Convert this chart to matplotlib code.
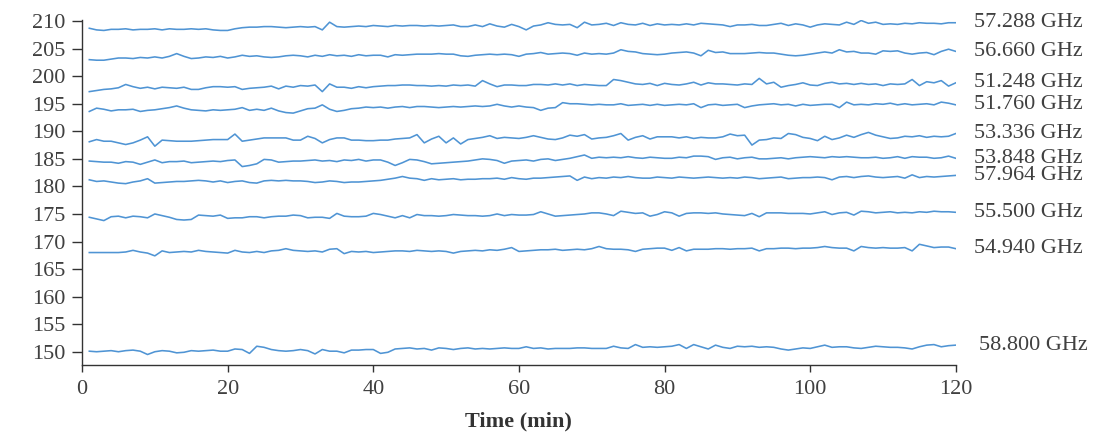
import numpy as np
import matplotlib
matplotlib.use('Agg')
import matplotlib.pyplot as plt

# time axis (minutes)
t = np.arange(1, 121)

f57288 = [208.7, 208.4, 208.3, 208.5, 208.5, 208.6, 208.4, 208.5, 208.5, 208.6,
          208.4, 208.6, 208.5, 208.5, 208.6, 208.5, 208.6, 208.4, 208.3, 208.3,
          208.6, 208.8, 208.9, 208.9, 209.0, 209.0, 208.9, 208.8, 208.9, 209.0,
          208.9, 209.0, 208.4, 209.8, 209.0, 208.9, 209.0, 209.1, 209.0, 209.2,
          209.1, 209.0, 209.2, 209.1, 209.2, 209.2, 209.1, 209.2, 209.1, 209.2,
          209.3, 209.0, 209.0, 209.3, 209.0, 209.5, 209.1, 208.9, 209.4, 209.0,
          208.4, 209.1, 209.3, 209.7, 209.4, 209.3, 209.4, 208.8, 209.8, 209.3,
          209.4, 209.6, 209.2, 209.7, 209.4, 209.3, 209.6, 209.2, 209.5, 209.3,
          209.4, 209.3, 209.5, 209.3, 209.6, 209.5, 209.4, 209.3, 209.0, 209.3,
          209.3, 209.4, 209.2, 209.2, 209.4, 209.6, 209.2, 209.5, 209.3, 208.9,
          209.3, 209.5, 209.4, 209.3, 209.8, 209.4, 210.1, 209.6, 209.8, 209.4,
          209.5, 209.4, 209.6, 209.5, 209.7, 209.6, 209.6, 209.5, 209.7, 209.7]

f56660 = [203.0, 202.9, 202.9, 203.1, 203.3, 203.3, 203.2, 203.4, 203.3, 203.5,
          203.3, 203.6, 204.1, 203.6, 203.2, 203.3, 203.5, 203.4, 203.6, 203.3,
          203.5, 203.8, 203.6, 203.7, 203.5, 203.4, 203.5, 203.7, 203.8, 203.7,
          203.5, 203.8, 203.6, 203.9, 203.7, 203.8, 203.6, 203.9, 203.7, 203.8,
          203.8, 203.5, 203.9, 203.8, 203.9, 204.0, 204.0, 204.0, 204.1, 204.0,
          204.0, 203.7, 203.6, 203.8, 203.9, 204.0, 203.9, 204.0, 203.9, 203.6,
          204.0, 204.1, 204.3, 204.0, 204.1, 204.2, 204.1, 203.8, 204.2, 204.0,
          204.1, 204.0, 204.2, 204.8, 204.5, 204.4, 204.1, 204.0, 203.9, 204.0,
          204.2, 204.3, 204.4, 204.2, 203.7, 204.7, 204.3, 204.4, 204.1, 204.1,
          204.1, 204.2, 204.3, 204.2, 204.2, 204.0, 203.8, 203.7, 203.8, 204.0,
          204.2, 204.4, 204.2, 204.8, 204.4, 204.5, 204.2, 204.2, 204.0, 204.6,
          204.5, 204.6, 204.2, 204.0, 204.2, 204.3, 203.9, 204.5, 204.9, 204.5]

f51248 = [197.2, 197.4, 197.6, 197.7, 197.9, 198.5, 198.1, 197.8, 198.0, 197.7,
          198.0, 197.9, 197.8, 198.0, 197.6, 197.6, 197.9, 198.1, 198.1, 198.0,
          198.1, 197.6, 197.8, 197.9, 198.0, 198.2, 197.7, 198.2, 198.0, 198.3,
          198.2, 198.4, 197.2, 198.6, 198.0, 198.0, 197.8, 198.1, 197.9, 198.1,
          198.2, 198.3, 198.3, 198.4, 198.4, 198.3, 198.3, 198.2, 198.3, 198.2,
          198.4, 198.3, 198.4, 198.2, 199.2, 198.6, 198.1, 198.4, 198.4, 198.3,
          198.3, 198.5, 198.5, 198.4, 198.6, 198.4, 198.6, 198.3, 198.5, 198.4,
          198.3, 198.3, 199.4, 199.2, 198.9, 198.6, 198.5, 198.7, 198.3, 198.7,
          198.5, 198.4, 198.6, 198.9, 198.4, 198.8, 198.6, 198.6, 198.5, 198.4,
          198.6, 198.5, 199.6, 198.6, 198.9, 198.0, 198.3, 198.5, 198.8, 198.4,
          198.3, 198.7, 198.9, 198.6, 198.7, 198.5, 198.7, 198.5, 198.6, 198.3,
          198.6, 198.5, 198.6, 199.4, 198.3, 199.0, 198.8, 199.2, 198.2, 198.8]

f51760 = [193.6, 194.2, 194.0, 193.7, 193.9, 193.9, 194.0, 193.6, 193.8, 193.9,
          194.1, 194.3, 194.6, 194.2, 193.9, 193.8, 193.7, 193.9, 193.8, 193.9,
          194.0, 194.3, 193.8, 194.0, 193.8, 194.2, 193.7, 193.4, 193.3, 193.7,
          194.1, 194.2, 194.8, 194.0, 193.6, 193.8, 194.1, 194.2, 194.4, 194.3,
          194.4, 194.2, 194.4, 194.5, 194.3, 194.5, 194.5, 194.4, 194.3, 194.4,
          194.5, 194.4, 194.5, 194.6, 194.5, 194.6, 194.9, 194.6, 194.4, 194.6,
          194.4, 194.3, 193.8, 194.2, 194.3, 195.2, 195.0, 195.0, 194.9, 194.8,
          194.9, 194.8, 194.8, 195.0, 194.7, 194.8, 194.9, 194.7, 194.9, 194.7,
          194.8, 194.9, 194.8, 195.0, 194.3, 194.8, 194.9, 194.7, 194.8, 194.9,
          194.3, 194.6, 194.8, 194.9, 195.0, 194.8, 194.9, 194.6, 194.9, 194.7,
          194.8, 194.9, 194.9, 194.3, 195.3, 194.8, 194.9, 194.8, 195.0, 194.9,
          195.1, 194.8, 195.0, 194.8, 194.9, 195.0, 194.8, 195.3, 195.1, 194.8]

f53336 = [188.1, 188.5, 188.2, 188.2, 187.9, 187.6, 187.9, 188.4, 189.0, 187.3,
          188.4, 188.3, 188.2, 188.2, 188.2, 188.3, 188.4, 188.5, 188.5, 188.5,
          189.5, 188.2, 188.4, 188.6, 188.8, 188.8, 188.8, 188.8, 188.4, 188.4,
          189.1, 188.7, 187.9, 188.5, 188.8, 188.8, 188.4, 188.4, 188.3, 188.3,
          188.4, 188.4, 188.6, 188.7, 188.8, 189.4, 187.9, 188.6, 189.1, 187.9,
          188.8, 187.7, 188.5, 188.7, 188.9, 189.2, 188.7, 188.9, 188.8, 188.7,
          188.9, 189.2, 188.9, 188.6, 188.5, 188.8, 189.3, 189.1, 189.4, 188.6,
          188.8, 188.9, 189.2, 189.6, 188.4, 188.9, 189.2, 188.6, 189.0, 189.0,
          189.0, 188.8, 189.0, 188.7, 188.9, 188.8, 188.8, 189.0, 189.5, 189.2,
          189.3, 187.5, 188.4, 188.5, 188.8, 188.7, 189.6, 189.4, 188.9, 188.7,
          188.3, 189.1, 188.5, 188.8, 189.3, 188.9, 189.4, 189.8, 189.3, 189.0,
          188.7, 188.8, 189.1, 189.0, 189.2, 188.9, 189.1, 189.0, 189.1, 189.6]

f53848 = [184.6, 184.5, 184.4, 184.4, 184.2, 184.5, 184.4, 184.0, 184.4, 184.8,
          184.3, 184.5, 184.5, 184.6, 184.3, 184.4, 184.5, 184.6, 184.5, 184.7,
          184.8, 183.6, 183.8, 184.1, 184.9, 184.8, 184.4, 184.5, 184.6, 184.6,
          184.7, 184.8, 184.6, 184.7, 184.5, 184.8, 184.7, 184.9, 184.6, 184.8,
          184.8, 184.4, 183.8, 184.3, 184.9, 184.8, 184.5, 184.1, 184.2, 184.3,
          184.4, 184.5, 184.6, 184.8, 185.0, 184.9, 184.7, 184.2, 184.6, 184.7,
          184.8, 184.6, 184.9, 185.0, 184.7, 184.9, 185.1, 185.4, 185.7, 185.1,
          185.3, 185.2, 185.3, 185.2, 185.4, 185.2, 185.1, 185.3, 185.2, 185.1,
          185.1, 185.3, 185.2, 185.5, 185.5, 185.4, 184.9, 185.2, 185.3, 185.0,
          185.2, 185.3, 185.0, 185.0, 185.1, 185.2, 185.0, 185.2, 185.3, 185.4,
          185.3, 185.2, 185.4, 185.3, 185.4, 185.3, 185.2, 185.2, 185.3, 185.1,
          185.2, 185.4, 185.1, 185.4, 185.3, 185.3, 185.1, 185.2, 185.5, 185.1]

f57964 = [181.2, 180.9, 181.0, 180.8, 180.6, 180.5, 180.8, 181.0, 181.4, 180.6,
          180.7, 180.8, 180.9, 180.9, 181.0, 181.1, 181.0, 180.8, 181.0, 180.7,
          180.9, 181.0, 180.7, 180.6, 181.0, 181.1, 181.0, 181.1, 181.0, 181.0,
          180.9, 180.7, 180.8, 181.0, 180.9, 180.7, 180.8, 180.8, 180.9, 181.0,
          181.1, 181.3, 181.5, 181.8, 181.5, 181.4, 181.1, 181.4, 181.2, 181.3,
          181.4, 181.2, 181.3, 181.3, 181.4, 181.4, 181.5, 181.3, 181.6, 181.4,
          181.3, 181.5, 181.5, 181.6, 181.7, 181.8, 181.9, 181.1, 181.7, 181.4,
          181.6, 181.5, 181.7, 181.6, 181.8, 181.6, 181.5, 181.5, 181.7, 181.6,
          181.5, 181.7, 181.6, 181.5, 181.6, 181.7, 181.6, 181.5, 181.6, 181.5,
          181.7, 181.6, 181.4, 181.5, 181.6, 181.7, 181.4, 181.5, 181.6, 181.6,
          181.7, 181.6, 181.2, 181.7, 181.8, 181.6, 181.8, 181.9, 181.7, 181.6,
          181.7, 181.8, 181.5, 182.1, 181.6, 181.8, 181.7, 181.8, 181.9, 182.0]

f55500 = [174.4, 174.1, 173.8, 174.5, 174.6, 174.3, 174.6, 174.5, 174.3, 175.0,
          174.7, 174.4, 174.0, 173.9, 174.0, 174.8, 174.7, 174.6, 174.8, 174.2,
          174.3, 174.3, 174.5, 174.5, 174.3, 174.5, 174.6, 174.6, 174.8, 174.7,
          174.3, 174.4, 174.4, 174.2, 175.1, 174.6, 174.5, 174.5, 174.6, 175.1,
          174.9, 174.6, 174.3, 174.7, 174.3, 174.9, 174.7, 174.7, 174.6, 174.7,
          174.9, 174.8, 174.7, 174.7, 174.6, 174.7, 175.0, 174.7, 174.9, 174.8,
          174.8, 174.9, 175.4, 175.0, 174.6, 174.7, 174.8, 174.9, 175.0, 175.2,
          175.2, 175.0, 174.7, 175.5, 175.3, 175.1, 175.2, 174.6, 174.9, 175.4,
          175.2, 174.6, 175.1, 175.2, 175.2, 175.1, 175.2, 175.0, 174.9, 174.8,
          174.7, 175.1, 174.5, 175.2, 175.2, 175.2, 175.1, 175.1, 175.1, 175.0,
          175.2, 175.4, 174.9, 175.2, 175.3, 174.8, 175.5, 175.4, 175.2, 175.3,
          175.4, 175.2, 175.3, 175.2, 175.4, 175.3, 175.5, 175.4, 175.4, 175.3]

f54940 = [168.0, 168.0, 168.0, 168.0, 168.0, 168.1, 168.4, 168.1, 167.9, 167.4,
          168.3, 168.0, 168.1, 168.2, 168.1, 168.4, 168.2, 168.1, 168.0, 167.9,
          168.4, 168.1, 168.0, 168.2, 168.0, 168.3, 168.4, 168.7, 168.4, 168.3,
          168.2, 168.3, 168.1, 168.6, 168.7, 167.8, 168.2, 168.1, 168.2, 168.0,
          168.1, 168.2, 168.3, 168.3, 168.2, 168.4, 168.3, 168.2, 168.3, 168.2,
          167.9, 168.2, 168.3, 168.4, 168.3, 168.5, 168.4, 168.6, 168.9, 168.2,
          168.3, 168.4, 168.5, 168.5, 168.6, 168.4, 168.5, 168.6, 168.5, 168.7,
          169.1, 168.7, 168.6, 168.6, 168.5, 168.2, 168.6, 168.7, 168.8, 168.8,
          168.4, 168.9, 168.3, 168.6, 168.6, 168.6, 168.7, 168.7, 168.6, 168.7,
          168.7, 168.8, 168.3, 168.7, 168.7, 168.8, 168.8, 168.7, 168.8, 168.8,
          168.9, 169.1, 168.9, 168.8, 168.8, 168.3, 169.1, 168.9, 168.8, 168.9,
          168.8, 168.8, 168.9, 168.3, 169.5, 169.2, 168.9, 169.0, 169.0, 168.7]

f58800 = [150.1, 150.0, 150.1, 150.2, 150.0, 150.2, 150.3, 150.1, 149.5, 150.0,
          150.2, 150.1, 149.8, 149.9, 150.2, 150.1, 150.2, 150.3, 150.1, 150.1,
          150.5, 150.4, 149.7, 151.0, 150.8, 150.4, 150.2, 150.1, 150.2, 150.4,
          150.2, 149.6, 150.4, 150.1, 150.1, 149.8, 150.3, 150.3, 150.4, 150.4,
          149.7, 149.9, 150.5, 150.6, 150.7, 150.5, 150.6, 150.3, 150.7, 150.6,
          150.4, 150.6, 150.7, 150.5, 150.6, 150.5, 150.6, 150.7, 150.6, 150.6,
          150.9, 150.6, 150.7, 150.5, 150.6, 150.6, 150.6, 150.7, 150.7, 150.6,
          150.6, 150.6, 151.0, 150.7, 150.6, 151.3, 150.8, 150.9, 150.8, 150.9,
          151.0, 151.3, 150.6, 151.3, 150.9, 150.5, 151.2, 150.8, 150.6, 151.0,
          150.9, 151.0, 150.8, 150.9, 150.8, 150.5, 150.3, 150.5, 150.7, 150.6,
          150.9, 151.2, 150.8, 150.9, 150.9, 150.7, 150.6, 150.8, 151.0, 150.9,
          150.8, 150.8, 150.7, 150.5, 150.9, 151.2, 151.3, 150.9, 151.1, 151.2]

series = [f57288, f56660, f51248, f51760, f53336, f53848, f57964, f55500, f54940, f58800]
labels = ['57.288 GHz', '56.660 GHz', '51.248 GHz', '51.760 GHz', '53.336 GHz',
          '53.848 GHz', '57.964 GHz', '55.500 GHz', '54.940 GHz', '58.800 GHz']

LINE_COLOR = '#4f94d4'
TEXT_COLOR = '#404040'

plt.rcParams['font.family'] = ['Liberation Serif', 'DejaVu Serif']

fig = plt.figure(figsize=(10.95, 4.44), dpi=100)
ax = fig.add_axes([0.0749, 0.178, 0.798, 0.777])

for y, lab in zip(series, labels):
    ax.plot(t, y, color=LINE_COLOR, linewidth=1.15)
    dx = 17 if lab == '58.800 GHz' else 13
    ax.annotate(lab, xy=(t[-1], y[-1]), xytext=(dx, 0), textcoords='offset points',
                va='center', ha='left', fontsize=16, color=TEXT_COLOR,
                annotation_clip=False)

ax.set_xlim(0, 120)
ax.set_ylim(147.6, 210.2)
ax.set_xticks(np.arange(0, 121, 20))
ax.set_yticks(np.arange(150, 211, 5))

ax.spines['top'].set_visible(False)
ax.spines['right'].set_visible(False)
for s in ['left', 'bottom']:
    ax.spines[s].set_color('#333333')
    ax.spines[s].set_linewidth(1.0)
ax.tick_params(axis='both', direction='out', colors='#333333', labelcolor=TEXT_COLOR,
               labelsize=16, width=1.0)
ax.tick_params(axis='y', length=7, pad=5)
ax.tick_params(axis='x', length=5, pad=6)

ax.set_xlabel('Time (min)', fontsize=16, fontweight='bold', color='#333333', labelpad=9)

plt.savefig('out.png', dpi=100)
